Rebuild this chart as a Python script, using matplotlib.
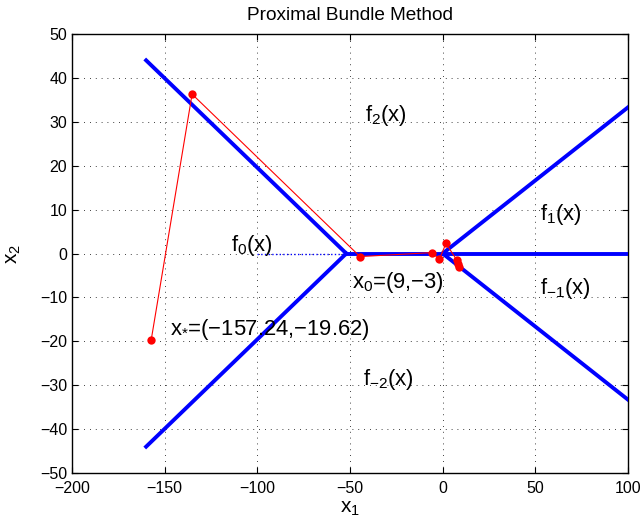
import numpy as np
import matplotlib
matplotlib.use("Agg")
from matplotlib import pyplot as plt

plt.rcParams["font.family"] = ["Liberation Sans", "DejaVu Sans"]
plt.rcParams["mathtext.fontset"] = "custom"
plt.rcParams["mathtext.rm"] = "Liberation Sans"
plt.rcParams["mathtext.it"] = "Liberation Sans"
plt.rcParams["axes.unicode_minus"] = True

# blue pieces (boundaries between the f_k regions)
ul_x, ul_y = [-160, -52], [44, 0]
ll_x, ll_y = [-160, -52], [-44, 0]
mid_x, mid_y = [-52, 100], [0, 0]
ur_x, ur_y = [0, 100], [0, 33.3]
lr_x, lr_y = [0, 100], [0, -33.3]
dot_x, dot_y = [-100, -52], [0, 0]

# iterates of the bundle method, from x0 to x*
it_x = [9, 8.5, 7.6, 1.8, -1.8, -5.9, -44.6, -135.2, -157.24]
it_y = [-3, -2.4, -1.5, 2.3, -1.3, 0.2, -0.7, 36.3, -19.62]

labels = [(-42, 31.5, r"$\mathregular{f_2(x)}$"),
          (52.5, 8.8, r"$\mathregular{f_1(x)}$"),
          (-114, 1.9, r"$\mathregular{f_0(x)}$"),
          (-49, -6.5, r"$\mathregular{x_0}$=(9,−3)"),
          (52.5, -7.9, r"$\mathregular{f_{-1}(x)}$"),
          (-147, -17.4, r"$\mathregular{x_{*}}$=(−157.24,−19.62)"),
          (-43, -28.8, r"$\mathregular{f_{-2}(x)}$")]

fig = plt.figure(figsize=(6.44, 5.17), dpi=100)
ax = fig.add_axes([72/644, 1-473/517, 556/644, 439/517])

for xs, ys in [(ul_x, ul_y), (ll_x, ll_y), (mid_x, mid_y), (ur_x, ur_y), (lr_x, lr_y)]:
    ax.plot(xs, ys, "-", color="#0000ff", linewidth=2.8, zorder=3)
ax.plot(dot_x, dot_y, ":", color="#0000ff", linewidth=1.0, zorder=2)
ax.plot(it_x, it_y, "r-", linewidth=0.8, zorder=4)
ax.plot(it_x, it_y, "o", color="red", markersize=6, markeredgewidth=0, zorder=5)

for x, y, s in labels:
    ax.text(x, y, s, fontsize=15.8, ha="left", va="center")

ax.set_xlim(-200, 100)
ax.set_ylim(-50, 50)
ax.set_xticks(np.arange(-200, 101, 50))
ax.set_yticks(np.arange(-50, 51, 10))
ax.tick_params(direction="in", labelsize=11.5, length=4, top=True, right=True)
ax.tick_params(axis="x", pad=6)
ax.grid(True, linestyle=(0, (1, 6)), color="black", linewidth=0.6)
for sp in ax.spines.values():
    sp.set_linewidth(1.0)
ax.set_title("Proximal Bundle Method", fontsize=13.7, pad=10)
ax.set_xlabel(r"$\mathregular{x_1}$", fontsize=15, labelpad=2)
ax.set_ylabel(r"$\mathregular{x_2}$", fontsize=15, labelpad=12)

fig.savefig("out.png", dpi=100)
